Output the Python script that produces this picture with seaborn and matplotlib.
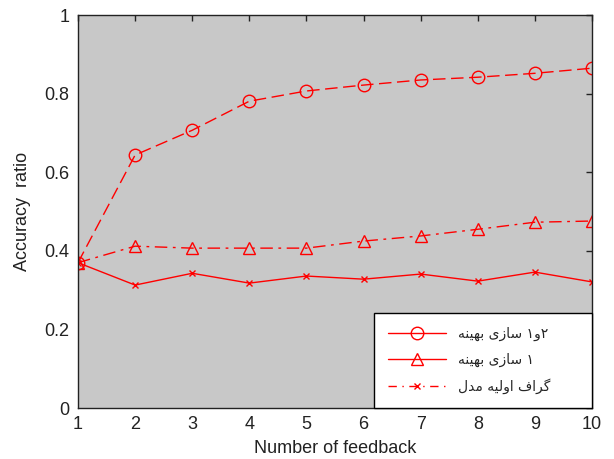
import numpy as np
import pandas as pd
import matplotlib
matplotlib.use("Agg")
import matplotlib.pyplot as plt
import seaborn as sns
from matplotlib.lines import Line2D
from matplotlib import font_manager

feedback = [1, 2, 3, 4, 5, 6, 7, 8, 9, 10]
opt12 = [0.370, 0.644, 0.707, 0.781, 0.807, 0.822, 0.835, 0.842, 0.852, 0.865]
opt1 = [0.370, 0.412, 0.407, 0.407, 0.407, 0.425, 0.438, 0.455, 0.473, 0.476]
base = [0.370, 0.313, 0.343, 0.318, 0.336, 0.328, 0.341, 0.323, 0.346, 0.321]

# Persian labels (visual order, presentation forms)
lab12 = "\uFEEA\uFEE8\uFEF4\uFEEC\uFE91 \uFEEF\uFEAF\uFE8E\uFEB3 \u06F1\uFEED\u06F2"
lab1 = "\uFEEA\uFEE8\uFEF4\uFEEC\uFE91 \uFEEF\uFEAF\uFE8E\uFEB3 \u06F1"
lab0 = "\uFEDD\uFEAA\uFEE3 \uFEEA\uFEF4\uFEDF\uFEED\uFE8D \uFED1\uFE8D\uFEAE\uFB94"
pad = "\u2003\u2003"

df = pd.DataFrame({"x": feedback, "opt12": opt12, "opt1": opt1, "base": base})

sns.set_style("white")
names = {f.name for f in font_manager.fontManager.ttflist}
main_font = "Liberation Sans Narrow" if "Liberation Sans Narrow" in names else "Liberation Sans"
plt.rcParams["font.family"] = [main_font, "DejaVu Sans"]

fig = plt.figure(figsize=(6.14, 4.59), dpi=100)
ax = fig.add_axes([0.1270, 0.111, 0.8372, 0.856])
ax.set_facecolor("#c8c8c8")

red = "#ff0000"
sns.lineplot(data=df, x="x", y="opt12", ax=ax, color=red, lw=1.0,
             marker="o", markersize=9, markerfacecolor="none", markeredgecolor=red,
             markeredgewidth=1.0, linestyle=(0, (9, 4)))
sns.lineplot(data=df, x="x", y="opt1", ax=ax, color=red, lw=1.0,
             marker="^", markersize=9, markerfacecolor="none", markeredgecolor=red,
             markeredgewidth=1.0, linestyle=(0, (9, 4, 2, 4)))
sns.lineplot(data=df, x="x", y="base", ax=ax, color=red, lw=1.0,
             marker="x", markersize=5, markeredgecolor=red, markeredgewidth=1.0,
             linestyle="-")

ax.set_xlim(1, 10)
ax.set_ylim(0, 1)
ax.set_xticks(feedback)
ax.set_yticks([0, 0.2, 0.4, 0.6, 0.8, 1.0])
ax.set_yticklabels(["0", "0.2", "0.4", "0.6", "0.8", "1"])
ax.tick_params(direction="in", length=4, width=1, top=True, right=True,
               labelsize=13, colors="#222222", pad=6)
for s in ax.spines.values():
    s.set_visible(True)
    s.set_color("#222222")
    s.set_linewidth(1.0)
ax.set_xlabel("Number of feedback", fontsize=13, labelpad=5, color="#222222")
ax.set_ylabel("Accuracy  ratio", fontsize=13, labelpad=10, color="#222222")

handles = [
    Line2D([], [], color=red, lw=1, marker="o", markersize=9, markerfacecolor="none"),
    Line2D([], [], color=red, lw=1, marker="^", markersize=9, markerfacecolor="none"),
    Line2D([], [], color=red, lw=1, marker="x", markersize=5, linestyle=(0, (6, 4, 1, 4))),
]
leg = ax.legend(handles, [lab12 + pad, lab1 + pad, lab0 + pad], loc="lower right",
                borderaxespad=0, frameon=True, fancybox=False, framealpha=1,
                edgecolor="black", handlelength=4.2, handletextpad=0.85,
                borderpad=1.0, labelspacing=0.85,
                prop={"family": ["DejaVu Sans"], "size": 10})
leg.get_frame().set_linewidth(1.0)

fig.savefig("out.png", dpi=100, facecolor="white")
